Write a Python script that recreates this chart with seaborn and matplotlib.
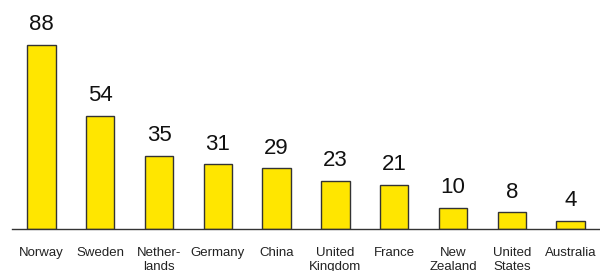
import matplotlib
matplotlib.use("Agg")
import matplotlib.pyplot as plt
import seaborn as sns
import pandas as pd

countries = ["Norway", "Sweden", "Nether-\nlands", "Germany", "China",
             "United\nKingdom", "France", "New\nZealand", "United\nStates", "Australia"]
values = [88, 54, 35, 31, 29, 23, 21, 10, 8, 4]

sns.set_theme(style="white")
plt.rcParams["font.family"] = ["Liberation Sans", "DejaVu Sans"]

df = pd.DataFrame({"country": countries, "value": values})

fig = plt.figure(figsize=(6.0, 2.71), dpi=100)
ax = fig.add_axes([0.02, 0.155, 0.98, 0.771])

sns.barplot(data=df, x="country", y="value", color="#FFE600", saturation=1,
            width=0.48, edgecolor="#333333", linewidth=1.0, ax=ax)

for c in ax.containers:
    ax.bar_label(c, labels=[str(v) for v in values], padding=7,
                 fontsize=16, color="#111111")

ax.set_xlim(-0.5, 9.5)
ax.set_ylim(0, 100)
ax.set_xlabel("")
ax.set_ylabel("")
ax.set_yticks([])
ax.tick_params(axis="x", length=0, pad=13, labelsize=9.5, colors="#222222")
for lbl in ax.get_xticklabels():
    lbl.set_linespacing(1.25)
for s in ["top", "right", "left"]:
    ax.spines[s].set_visible(False)
ax.spines["bottom"].set_color("#333333")
ax.spines["bottom"].set_linewidth(1.0)

fig.savefig("out.png", dpi=100)
